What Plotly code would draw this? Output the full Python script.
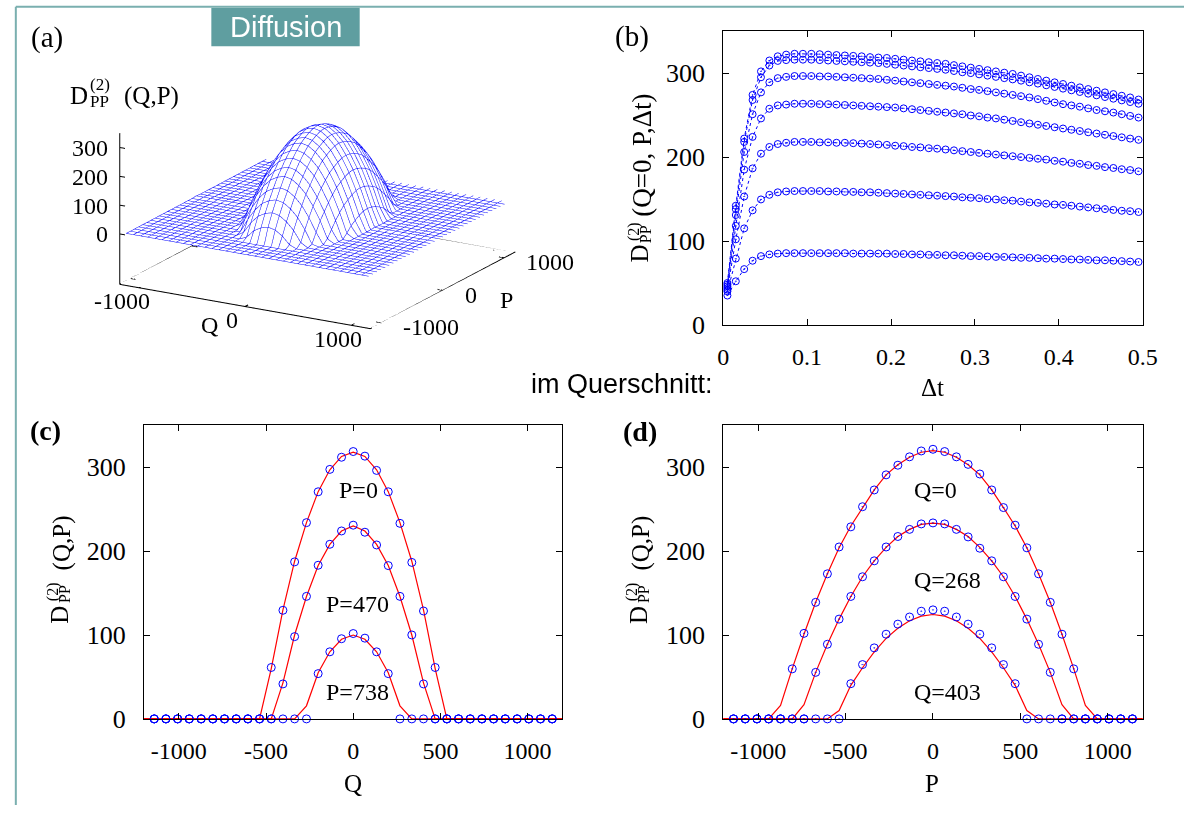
import plotly.graph_objects as go

W, H = 1199, 820
def X(px): return px / W
def Y(py): return 1 - py / H

# ---------------- data ----------------
# common Q / P grid (35 bins)
Q_GRID = [-1141, -1074, -1007, -940, -872, -805, -738, -671, -604, -537, -470, -403,
          -336, -268, -201, -134, -67, 0, 67, 134, 201, 268, 336, 403, 470, 537,
          604, 671, 738, 805, 872, 940, 1007, 1074, 1141]
P_GRID = list(Q_GRID)
RED_GRID = [-1200] + Q_GRID + [1200]

# (c) cross sections D(Q, P=const) : circles
C_P0 = [0]*10 + [61.3, 129.5, 187.2, 234.0, 270.8, 297.5, 312.0, 318.8, 313.3, 296.3,
                 270.8, 233.2, 186.6, 128.7, 61.3] + [0]*10
C_P470 = [0]*11 + [41.7, 98.1, 146.1, 183.2, 208.2, 224.1, 231.0, 222.6, 207.4, 182.8,
                   146.1, 100.1, 41.7] + [0]*11
C_P738 = [0]*14 + [54.0, 80.0, 95.6, 101.8, 96.3, 80.0, 54.0] + [0]*14
# (c) red lines
C_RED_P0 = [0]*11 + [60, 130, 188, 234, 271, 297, 313, 318, 313, 297, 271, 234, 188,
                     130, 60] + [0]*11
C_RED_P470 = [0]*12 + [43, 100, 146, 183, 208, 224, 230, 224, 208, 183, 146, 100,
                       43] + [0]*12
C_RED_P738 = [0]*14 + [15.6, 55, 80, 95, 100, 95, 80, 55, 15.6] + [0]*14

# (d) cross sections D(Q=const, P) : circles
D_Q0 = [0]*5 + [59.7, 102, 139, 173, 205, 229, 253, 273, 291, 302.5, 312.5, 319.5,
                321.5, 318.8, 312.5, 303.5, 292, 273, 252, 231, 204, 173, 139, 101,
                59.7] + [0]*5
D_Q268 = [0]*7 + [55.5, 89, 119, 146, 169.5, 188.5, 205, 217.5, 226, 232.5, 233.7,
                  232.5, 226, 217, 203.5, 188.5, 169.5, 146, 119, 89, 55.5] + [0]*7
D_Q403 = [0]*10 + [42, 64.8, 84.7, 101, 113, 121.5, 128.4, 130, 128.4, 121.5, 113,
                   101, 84.7, 64.8, 42] + [0]*10
# (d) red lines
D_RED_Q0 = [0]*5 + [16, 60, 101, 139, 173, 204, 230, 252, 273, 291, 303, 312, 318,
                    320, 318, 312, 303, 291, 273, 252, 230, 204, 173, 139, 101, 60,
                    16] + [0]*5
D_RED_Q268 = [0]*7 + [17, 55.5, 89, 119, 146, 169.5, 188.5, 204.5, 217.5, 226, 232,
                      233.5, 232, 226, 217.5, 204.5, 188.5, 169.5, 146, 119, 89, 55.5,
                      17] + [0]*7
D_RED_Q403 = [0]*10 + [10, 40, 61, 80, 96, 108, 117, 122.5, 124.5, 122.5, 117, 108,
                       96, 80, 61, 40, 10] + [0]*10

# peak value D(0,0) used to combine the two central profiles into the surface
PEAK = 320.0

# (b) D(Q=0, P, dt) vs dt
B_DT = [0.005, 0.015, 0.025, 0.035, 0.045, 0.055, 0.065, 0.075, 0.085, 0.095,
        0.105, 0.115, 0.125, 0.135, 0.145, 0.155, 0.165, 0.175, 0.185, 0.195,
        0.205, 0.215, 0.225, 0.235, 0.245, 0.255, 0.265, 0.275, 0.285, 0.295,
        0.305, 0.315, 0.325, 0.335, 0.345, 0.355, 0.365, 0.375, 0.385, 0.395,
        0.405, 0.415, 0.425, 0.435, 0.445, 0.455, 0.465, 0.475, 0.485, 0.495]
B_C7 = [50, 142, 222, 274, 302, 315, 320, 322, 323, 323, 323, 322.5, 322, 321.5, 321,
        320.5, 320, 319, 318.5, 318, 317, 316, 315, 314, 313, 312, 311, 309.5, 308,
        306.5, 305, 303.5, 302, 300.5, 299, 297, 295, 293, 291, 289, 287, 285, 283,
        281, 279, 277, 275, 273, 271, 268.5]
B_C6 = [48, 138, 218, 268, 295, 309, 314.5, 315.5, 316, 316, 316, 315.5, 315, 314.5,
        314, 313.5, 313, 312.5, 312, 311, 310, 309, 308, 307, 306, 305, 304, 302.5,
        301, 300, 298.5, 297, 295.5, 294, 292.5, 291, 289, 287.5, 285.5, 283.5, 281.5,
        279.5, 277.5, 275.5, 273.5, 271.5, 269.5, 267.5, 265.5, 263.5]
B_C5 = [46, 131, 206, 251, 277, 289, 294, 295.5, 296.5, 296.5, 296.5, 296, 296, 295.5,
        295, 294.5, 294, 293.5, 293, 292, 291, 290, 289, 288, 287, 286, 285, 284,
        282.5, 281, 280, 278.5, 277, 275.5, 274, 272.5, 271, 269, 267, 265, 263, 261.5,
        260, 258, 256, 254.5, 253, 251, 249, 247]
B_C4 = [44, 118, 185, 224, 246, 257.5, 261.5, 262.5, 263.5, 263.5, 263.5, 263, 263,
        262.5, 262, 261.5, 261, 260.5, 260, 259.5, 259, 258, 257, 256, 255, 254, 253,
        252, 251, 249.5, 248.5, 247, 246, 244.5, 243, 241.5, 240, 238.5, 237, 235.5,
        234, 232.5, 231, 229.5, 228, 226.5, 225, 223.5, 222, 220.5]
B_C3 = [42, 102, 153, 186.5, 204, 212, 215.5, 217, 218, 218, 218, 217.5, 217.5, 217,
        217, 216.5, 216, 215.5, 215, 214.5, 213.5, 213, 212, 211.5, 210.5, 210, 209,
        208, 207, 206, 205, 204, 203, 202, 201, 200, 199, 198, 197, 195.5, 194.5, 193,
        192, 190.5, 189.5, 188, 187, 185.5, 184.5, 183]
B_C2 = [40, 79, 115, 136.5, 149.5, 155, 158, 159, 159.5, 159.5, 159.5, 159.5, 159, 159,
        158.5, 158.5, 158, 158, 157.5, 157, 156.5, 156, 155.5, 155, 154.5, 154, 153.5,
        153, 152, 151.5, 151, 150, 149.5, 148.5, 148, 147, 146, 145.5, 144.5, 143.5,
        143, 142, 141, 140, 139, 138, 137, 136, 135.5, 134.5]
B_C1 = [35, 52, 66.5, 76.5, 82, 84, 85, 85.5, 85.5, 85.5, 85.5, 85.5, 85.5, 85.5, 85.5,
        85, 85, 85, 85, 85, 84.5, 84.5, 84, 84, 83.5, 83.5, 83, 83, 82.5, 82, 82, 81.5,
        81, 81, 80.5, 80, 80, 79.5, 79, 79, 78.5, 78, 78, 77.5, 77, 77, 76.5, 76, 75.5,
        75]
B_CURVES = [B_C1, B_C2, B_C3, B_C4, B_C5, B_C6, B_C7]

# tick labels
QP_TICKS = [-1000, -500, 0, 500, 1000]
QP_TICKTEXT = ["-1000", "-500", "0", "500", "1000"]
D_TICKS = [0, 100, 200, 300]
DT_TICKS = [0, 0.1, 0.2, 0.3, 0.4, 0.5]
DT_TICKTEXT = ["0", "0.1", "0.2", "0.3", "0.4", "0.5"]
A_Q_TICKS = [-1000, 0, 1000]
A_Z_TICKS = [0, 100, 200, 300]

# ---------------- styles ----------------
BLUE = "#0000ff"
RED = "#ff0000"
SERIF = "Liberation Serif"
SANS = "Liberation Sans"
TEAL = "#5f9ea0"

fig = go.Figure()

# ---------------- (a) 3D surface ----------------
AX = 1180      # axis half range
ZB = -175      # base plane (ticslevel)
ZT = 350
Z = [[max(0.0, C_P0[i] + D_Q0[j] - PEAK) for i in range(len(Q_GRID))]
     for j in range(len(P_GRID))]
step = (Q_GRID[-1] - Q_GRID[0]) / (len(Q_GRID) - 1)
fig.add_trace(go.Surface(
    x=Q_GRID, y=P_GRID, z=Z, scene="scene",
    colorscale=[[0, "white"], [1, "white"]], showscale=False,
    lighting=dict(ambient=1, diffuse=0, specular=0, roughness=1, fresnel=0),
    contours=dict(
        x=dict(show=True, start=Q_GRID[0], end=Q_GRID[-1], size=step, color=BLUE,
               width=2, highlight=False),
        y=dict(show=True, start=P_GRID[0], end=P_GRID[-1], size=step, color=BLUE,
               width=2, highlight=False),
        z=dict(highlight=False)),
    hoverinfo="skip"))

# base frame + z axis
bx = [-AX, AX, AX, -AX, -AX, None, -AX, -AX]
by = [-AX, -AX, AX, AX, -AX, None, -AX, -AX]
bz = [ZB, ZB, ZB, ZB, ZB, None, ZB, ZT]
TL = 50
for v in A_Q_TICKS:
    bx += [None, v, v, None, v, v]
    by += [None, -AX, -AX + TL, None, AX, AX - TL]
    bz += [None, ZB, ZB, None, ZB, ZB]
    bx += [None, AX, AX - TL, None, -AX, -AX + TL]
    by += [None, v, v, None, v, v]
    bz += [None, ZB, ZB, None, ZB, ZB]
for v in A_Z_TICKS:
    bx += [None, -AX, -AX + TL]
    by += [None, -AX, -AX]
    bz += [None, v, v]
fig.add_trace(go.Scatter3d(x=bx, y=by, z=bz, mode="lines", scene="scene",
                           line=dict(color="black", width=2), hoverinfo="skip",
                           connectgaps=False))

scene_ann = []
for v in A_Z_TICKS:
    scene_ann.append(dict(x=-AX, y=-AX, z=v, text=str(v), showarrow=False,
                          xanchor="right", xshift=-10,
                          font=dict(family=SERIF, size=24, color="black")))
for v, xs in zip(A_Q_TICKS, [-17, -13, -13]):
    scene_ann.append(dict(x=v, y=-AX, z=ZB, text=str(v), showarrow=False,
                          xshift=xs, yshift=-13,
                          font=dict(family=SERIF, size=24, color="black")))
for v in A_Q_TICKS:
    scene_ann.append(dict(x=AX, y=v, z=ZB, text=str(v), showarrow=False,
                          xanchor="left", xshift=20, yshift=-4,
                          font=dict(family=SERIF, size=24, color="black")))
scene_ann.append(dict(x=0, y=-AX, z=ZB, text="Q", showarrow=False, xshift=-36,
                      yshift=-18, font=dict(family=SERIF, size=24, color="black")))
scene_ann.append(dict(x=AX, y=0, z=ZB, text="P", showarrow=False, xshift=64,
                      yshift=-9, font=dict(family=SERIF, size=24, color="black")))

eye_dir = (0.476, -0.824, 0.306)
dist = 2.0
fig.update_layout(scene=dict(
    domain=dict(x=[X(108), X(526)], y=[Y(348), Y(45)]),
    xaxis=dict(visible=False, range=[-AX, AX]),
    yaxis=dict(visible=False, range=[-AX, AX]),
    zaxis=dict(visible=False, range=[ZB, ZT]),
    aspectmode="manual", aspectratio=dict(x=1.95, y=1.95, z=1.07),
    camera=dict(projection=dict(type="orthographic"),
                eye=dict(x=eye_dir[0]*dist, y=eye_dir[1]*dist, z=eye_dir[2]*dist),
                up=dict(x=0, y=0, z=1), center=dict(x=0, y=0, z=0)),
    bgcolor="rgba(0,0,0,0)",
    annotations=scene_ann))

# ---------------- (b) ----------------
for ys in B_CURVES:
    fig.add_trace(go.Scatter(
        x=B_DT, y=ys, mode="lines+markers", xaxis="x", yaxis="y",
        line=dict(color=BLUE, width=1, dash="dot"),
        marker=dict(symbol="circle-open-dot", size=7, color=BLUE,
                    line=dict(color=BLUE, width=1)),
        cliponaxis=False, hoverinfo="skip"))

# ---------------- (c) ----------------
for ys in [C_RED_P0, C_RED_P470, C_RED_P738]:
    fig.add_trace(go.Scatter(x=RED_GRID, y=ys, mode="lines", xaxis="x2", yaxis="y2",
                             line=dict(color=RED, width=1.2), cliponaxis=False,
                             hoverinfo="skip"))
for ys in [C_P0, C_P470, C_P738]:
    fig.add_trace(go.Scatter(x=Q_GRID, y=ys, mode="markers", xaxis="x2", yaxis="y2",
                             marker=dict(symbol="circle-open", size=8, color=BLUE,
                                         line=dict(color=BLUE, width=1)),
                             cliponaxis=False, hoverinfo="skip"))

# ---------------- (d) ----------------
for ys in [D_RED_Q0, D_RED_Q268, D_RED_Q403]:
    fig.add_trace(go.Scatter(x=RED_GRID, y=ys, mode="lines", xaxis="x3", yaxis="y3",
                             line=dict(color=RED, width=1.2), cliponaxis=False,
                             hoverinfo="skip"))
for ys in [D_Q0, D_Q268, D_Q403]:
    fig.add_trace(go.Scatter(x=P_GRID, y=ys, mode="markers", xaxis="x3", yaxis="y3",
                             marker=dict(symbol="circle-open-dot", size=8, color=BLUE,
                                         line=dict(color=BLUE, width=1)),
                             cliponaxis=False, hoverinfo="skip"))

axis_common = dict(showline=True, linecolor="black", linewidth=1, mirror="ticks",
                   ticks="inside", ticklen=6, tickcolor="black", showgrid=False,
                   zeroline=False, fixedrange=True)
XFONT = dict(family=SERIF, size=24, color="black")
YFONT = dict(family=SERIF, size=26, color="black")

fig.update_layout(
    xaxis=dict(domain=[X(730), X(1157)], range=[0, 0.5], anchor="y",
               tickvals=DT_TICKS, ticktext=DT_TICKTEXT, ticklabelstandoff=10,
               tickfont=XFONT, **axis_common),
    yaxis=dict(domain=[Y(331), Y(31.7)], range=[0, 350], anchor="x",
               tickvals=D_TICKS, ticklabelstandoff=12, tickfont=YFONT, **axis_common),
    xaxis2=dict(domain=[X(140.4), X(566.4)], range=[-1200, 1200], anchor="y2",
                tickvals=QP_TICKS, ticktext=QP_TICKTEXT, ticklabelstandoff=10,
                tickfont=XFONT, **axis_common),
    yaxis2=dict(domain=[Y(732.3), Y(433.3)], range=[0, 350], anchor="x2",
                tickvals=D_TICKS, ticklabelstandoff=12, tickfont=YFONT, **axis_common),
    xaxis3=dict(domain=[X(730), X(1157)], range=[-1200, 1200], anchor="y3",
                tickvals=QP_TICKS, ticktext=QP_TICKTEXT, ticklabelstandoff=10,
                tickfont=XFONT, **axis_common),
    yaxis3=dict(domain=[Y(732.3), Y(433.3)], range=[0, 350], anchor="x3",
                tickvals=D_TICKS, ticklabelstandoff=12, tickfont=YFONT, **axis_common),
)

# ---------------- annotations ----------------
ann = []
def txt(x, y, text, size=24, family=SERIF, angle=0, xanchor="center", color="black",
        bold=False):
    if bold:
        text = "<b>" + text + "</b>"
    ann.append(dict(x=X(x), y=Y(y), xref="paper", yref="paper", text=text,
                    showarrow=False, xanchor=xanchor, yanchor="middle",
                    textangle=angle, font=dict(family=family, size=size, color=color)))

# panel labels
txt(42, 38, "(a)", 29)
txt(637, 37, "(b)", 29)
txt(40, 439, "(c)", 28, bold=True)
txt(645, 440, "(d)", 28, bold=True)

# (a) z label
txt(74, 97, "D", 25)
txt(95.5, 86, "(2)", 17)
txt(95.5, 103, "PP", 17)
txt(148, 98, "(Q,P)", 25)

# (b) y label (rotated)
txt(644.4, 258, "D", 25, angle=-90)
txt(638.5, 236, "(2)", 16, angle=-90)
txt(651, 239, "PP", 16, angle=-90)
txt(647, 158, "(Q=0, P,\u0394t)", 27, angle=-90)
txt(943.5, 395, "\u0394t", 25)

# (c) y label
txt(54.5, 626.7, "D", 25, angle=-90)
txt(48, 603, "(2)", 16, angle=-90)
txt(60, 605, "PP", 16, angle=-90)
txt(56.5, 553, "(Q,P)", 25, angle=-90)
txt(353.5, 798, "Q", 25)

# (d) y label
txt(644, 626.7, "D", 25, angle=-90)
txt(637.5, 603, "(2)", 16, angle=-90)
txt(649.5, 605, "PP", 16, angle=-90)
txt(646, 553, "(Q,P)", 25, angle=-90)
txt(943, 798, "P", 25)

# curve labels
txt(359, 499, "P=0", 24)
txt(358, 615, "P=470", 24)
txt(358, 705, "P=738", 24)
txt(922, 499, "Q=0", 24, xanchor="left")
txt(922, 591, "Q=268", 24, xanchor="left")
txt(922, 705, "Q=403", 24, xanchor="left")

# headings
txt(627, 391, "im Querschnitt:", 27, family=SANS)
txt(284.5, 28, "Diffusion", 29, family=SANS, color="white")

shapes = [
    dict(type="rect", xref="paper", yref="paper", x0=X(209), x1=X(360), y0=Y(47),
         y1=Y(8), fillcolor=TEAL, line=dict(width=0), layer="below"),
    dict(type="line", xref="paper", yref="paper", x0=X(10), x1=1, y0=Y(7), y1=Y(7),
         line=dict(color="#7aafaf", width=2)),
    dict(type="line", xref="paper", yref="paper", x0=X(10), x1=X(10), y0=Y(7), y1=0,
         line=dict(color="#7aafaf", width=2)),
]

fig.update_layout(annotations=ann, shapes=shapes, width=W, height=H,
                  margin=dict(l=0, r=0, t=0, b=0), showlegend=False,
                  paper_bgcolor="white", plot_bgcolor="white")

fig.write_html("out.html")
